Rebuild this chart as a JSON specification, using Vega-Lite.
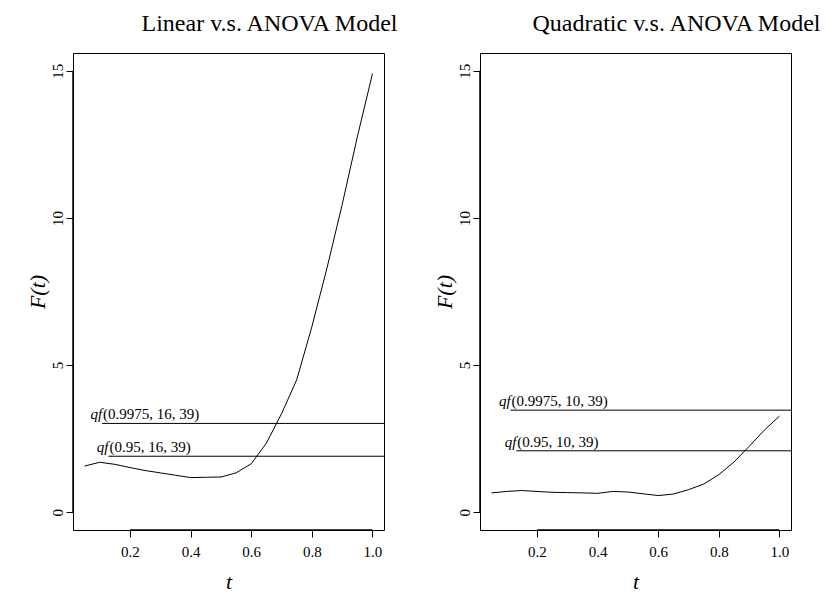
{
  "$schema": "https://vega.github.io/schema/vega-lite/v6.json",
  "background": "white",
  "padding": {"left": 25, "top": 11, "right": 0, "bottom": 0},
  "autosize": {"type": "pad"},
  "spacing": 96,
  "bounds": "flush",
  "config": {
    "view": {"stroke": "black", "strokeWidth": 1},
    "font": "Liberation Serif",
    "axis": {
      "domain": false, "grid": false, "tickColor": "black", "tickWidth": 1, "tickSize": 7,
      "labelColor": "black", "titleColor": "black", "labelFont": "Liberation Serif", "labelFontSize": 15,
      "titleFont": "Liberation Serif", "titleFontSize": 22, "titleFontStyle": "italic", "titleFontWeight": "normal",
      "labelFlush": false, "labelOverlap": false
    },
    "title": {"font": "Liberation Serif", "fontSize": 24, "fontWeight": "normal", "color": "black", "anchor": "middle", "dx": 41, "offset": 17, "baseline": "alphabetic"}
  },
  "datasets": {
    "linear": [
      {"t": 0.05, "F": 1.57}, {"t": 0.10, "F": 1.70}, {"t": 0.15, "F": 1.63}, {"t": 0.20, "F": 1.52},
      {"t": 0.25, "F": 1.42}, {"t": 0.30, "F": 1.34}, {"t": 0.35, "F": 1.26}, {"t": 0.40, "F": 1.18},
      {"t": 0.45, "F": 1.19}, {"t": 0.50, "F": 1.20}, {"t": 0.55, "F": 1.34}, {"t": 0.60, "F": 1.65},
      {"t": 0.65, "F": 2.35}, {"t": 0.70, "F": 3.35}, {"t": 0.75, "F": 4.5}, {"t": 0.80, "F": 6.3},
      {"t": 0.85, "F": 8.3}, {"t": 0.90, "F": 10.45}, {"t": 0.95, "F": 12.75}, {"t": 1.00, "F": 14.9}
    ],
    "quad": [
      {"t": 0.05, "F": 0.66}, {"t": 0.10, "F": 0.71}, {"t": 0.15, "F": 0.74}, {"t": 0.20, "F": 0.71},
      {"t": 0.25, "F": 0.68}, {"t": 0.30, "F": 0.67}, {"t": 0.35, "F": 0.66}, {"t": 0.40, "F": 0.645},
      {"t": 0.45, "F": 0.71}, {"t": 0.50, "F": 0.69}, {"t": 0.55, "F": 0.63}, {"t": 0.60, "F": 0.57},
      {"t": 0.65, "F": 0.62}, {"t": 0.70, "F": 0.77}, {"t": 0.75, "F": 0.96}, {"t": 0.80, "F": 1.28},
      {"t": 0.85, "F": 1.71}, {"t": 0.90, "F": 2.24}, {"t": 0.95, "F": 2.79}, {"t": 1.00, "F": 3.27}
    ],
    "crit_lin": [
      {"t": 0.108, "F": 3.02, "fn": "qf", "args": "(0.9975, 16, 39)"},
      {"t": 0.129, "F": 1.905, "fn": "qf", "args": "(0.95, 16, 39)"}
    ],
    "crit_quad": [
      {"t": 0.113, "F": 3.47, "fn": "qf", "args": "(0.9975, 10, 39)"},
      {"t": 0.132, "F": 2.09, "fn": "qf", "args": "(0.95, 10, 39)"}
    ]
  },
  "hconcat": [
    {
      "width": 311, "height": 477,
      "title": {"text": "Linear v.s. ANOVA Model"},
      "layer": [
        {
          "data": {"name": "crit_lin"},
          "mark": {"type": "rule", "color": "black", "strokeWidth": 1},
          "encoding": {
            "x": {"field": "t", "type": "quantitative", "scale": {"domain": [0.012, 1.038], "nice": false, "zero": false},
              "axis": {"title": "t", "values": [0.2, 0.4, 0.6, 0.8, 1.0], "format": ".1f", "labelPadding": 7,
                "titleX": 155.5, "titleY": 51, "titleAngle": 0, "titleAlign": "center", "titleBaseline": "middle"}},
            "y": {"field": "F", "type": "quantitative", "scale": {"domain": [-0.6, 15.6], "nice": false, "zero": false},
              "axis": {"title": "F(t)", "values": [0, 5, 10, 15], "labelAngle": 270, "labelAlign": "center", "labelBaseline": "alphabetic", "labelPadding": 4,
                "titleX": -36, "titleY": 238.5, "titleAngle": 270, "titleAlign": "center", "titleBaseline": "middle"}},
            "x2": {"datum": 1.038}
          }
        },
        {
          "data": {"name": "crit_lin"},
          "mark": {"type": "text", "align": "right", "baseline": "alphabetic", "dy": -4, "fontStyle": "italic", "fontSize": 15, "font": "Liberation Serif", "color": "black"},
          "encoding": {"x": {"field": "t", "type": "quantitative"}, "y": {"field": "F", "type": "quantitative"}, "text": {"field": "fn"}}
        },
        {
          "data": {"name": "crit_lin"},
          "mark": {"type": "text", "align": "left", "baseline": "alphabetic", "dy": -4, "dx": 1, "fontSize": 15, "font": "Liberation Serif", "color": "black"},
          "encoding": {"x": {"field": "t", "type": "quantitative"}, "y": {"field": "F", "type": "quantitative"}, "text": {"field": "args"}}
        },
        {
          "data": {"name": "linear"},
          "mark": {"type": "line", "color": "black", "strokeWidth": 1},
          "encoding": {"x": {"field": "t", "type": "quantitative"}, "y": {"field": "F", "type": "quantitative"}}
        },
        {
          "data": {"values": [{}]},
          "mark": {"type": "rule", "color": "black", "strokeWidth": 1.5},
          "encoding": {"x": {"datum": 0.012}, "y": {"datum": 0}, "y2": {"datum": 15}}
        },
        {
          "data": {"values": [{}]},
          "mark": {"type": "rule", "color": "black", "strokeWidth": 1.5},
          "encoding": {"y": {"datum": -0.6}, "x": {"datum": 0.2}, "x2": {"datum": 1.0}}
        }
      ]
    },
    {
      "width": 311, "height": 477,
      "title": {"text": "Quadratic v.s. ANOVA Model"},
      "layer": [
        {
          "data": {"name": "crit_quad"},
          "mark": {"type": "rule", "color": "black", "strokeWidth": 1},
          "encoding": {
            "x": {"field": "t", "type": "quantitative", "scale": {"domain": [0.012, 1.038], "nice": false, "zero": false},
              "axis": {"title": "t", "values": [0.2, 0.4, 0.6, 0.8, 1.0], "format": ".1f", "labelPadding": 7,
                "titleX": 155.5, "titleY": 51, "titleAngle": 0, "titleAlign": "center", "titleBaseline": "middle"}},
            "y": {"field": "F", "type": "quantitative", "scale": {"domain": [-0.6, 15.6], "nice": false, "zero": false},
              "axis": {"title": "F(t)", "values": [0, 5, 10, 15], "labelAngle": 270, "labelAlign": "center", "labelBaseline": "alphabetic", "labelPadding": 4,
                "titleX": -36, "titleY": 238.5, "titleAngle": 270, "titleAlign": "center", "titleBaseline": "middle"}},
            "x2": {"datum": 1.038}
          }
        },
        {
          "data": {"name": "crit_quad"},
          "mark": {"type": "text", "align": "right", "baseline": "alphabetic", "dy": -4, "fontStyle": "italic", "fontSize": 15, "font": "Liberation Serif", "color": "black"},
          "encoding": {"x": {"field": "t", "type": "quantitative"}, "y": {"field": "F", "type": "quantitative"}, "text": {"field": "fn"}}
        },
        {
          "data": {"name": "crit_quad"},
          "mark": {"type": "text", "align": "left", "baseline": "alphabetic", "dy": -4, "dx": 1, "fontSize": 15, "font": "Liberation Serif", "color": "black"},
          "encoding": {"x": {"field": "t", "type": "quantitative"}, "y": {"field": "F", "type": "quantitative"}, "text": {"field": "args"}}
        },
        {
          "data": {"name": "quad"},
          "mark": {"type": "line", "color": "black", "strokeWidth": 1},
          "encoding": {"x": {"field": "t", "type": "quantitative"}, "y": {"field": "F", "type": "quantitative"}}
        },
        {
          "data": {"values": [{}]},
          "mark": {"type": "rule", "color": "black", "strokeWidth": 1.5},
          "encoding": {"x": {"datum": 0.012}, "y": {"datum": 0}, "y2": {"datum": 15}}
        },
        {
          "data": {"values": [{}]},
          "mark": {"type": "rule", "color": "black", "strokeWidth": 1.5},
          "encoding": {"y": {"datum": -0.6}, "x": {"datum": 0.2}, "x2": {"datum": 1.0}}
        }
      ]
    }
  ]
}
